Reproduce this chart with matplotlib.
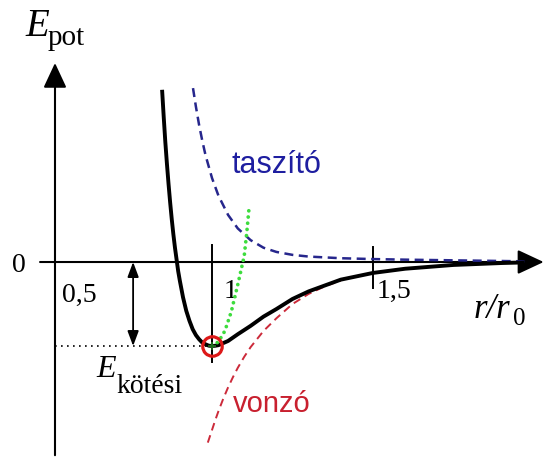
import matplotlib
matplotlib.use("Agg")
import matplotlib.pyplot as plt

# Potential energy curves (r in units of r0, energy in units of the bond energy)
r_total = [0.845, 0.85, 0.855, 0.86, 0.865, 0.87, 0.875, 0.88, 0.885, 0.89, 0.895,
           0.90, 0.91, 0.92, 0.93, 0.94, 0.95, 0.96, 0.97, 0.98, 0.99, 1.00,
           1.01, 1.02, 1.035, 1.05, 1.065, 1.08, 1.10, 1.12, 1.16, 1.20, 1.25,
           1.30, 1.40, 1.50, 1.60, 1.75, 1.90, 1.97]
E_total = [2.05, 1.73, 1.43, 1.17, 0.93, 0.71, 0.51, 0.33, 0.17, 0.03, -0.11,
           -0.22, -0.42, -0.58, -0.70, -0.80, -0.87, -0.92, -0.96, -0.98, -0.996, -1.00,
           -0.997, -0.99, -0.965, -0.94, -0.90, -0.86, -0.81, -0.76, -0.65, -0.56, -0.44,
           -0.35, -0.21, -0.13, -0.08, -0.035, -0.012, -0.005]

r_rep = [0.941, 0.95, 0.96, 0.97, 0.98, 1.00, 1.02, 1.05, 1.08, 1.12, 1.16, 1.20,
         1.25, 1.30, 1.40, 1.50, 1.60, 1.75, 1.90, 1.97]
E_rep = [2.07, 1.85, 1.63, 1.44, 1.27, 1.00, 0.79, 0.56, 0.40, 0.26, 0.17, 0.12,
         0.085, 0.065, 0.045, 0.035, 0.028, 0.02, 0.012, 0.008]

r_att = [0.987, 1.0, 1.01, 1.02, 1.035, 1.05, 1.065, 1.08, 1.10, 1.12, 1.16, 1.20,
         1.25, 1.30, 1.35, 1.40]
E_att = [-2.15, -2.0, -1.884, -1.776, -1.627, -1.492, -1.371, -1.26, -1.129, -1.013,
         -0.821, -0.67, -0.50, -0.38, -0.29, -0.22]

r_harm = [1.0, 1.02, 1.04, 1.06, 1.08, 1.10, 1.108, 1.115]
E_harm = [-1.0, -0.95, -0.82, -0.59, -0.27, 0.07, 0.35, 0.64]

r_min, E_min = 1.0, -1.0
x_ticks = [1.0, 1.5]
tick_labels = ["0,5", "1", "1,5"]

SERIF = "Liberation Serif"
SANS = "Liberation Sans"

fig = plt.figure(figsize=(5.46, 4.59), dpi=100)
ax = fig.add_axes([0, 0, 1, 1])
ax.set_xlim(0.3416, 2.0373)
ax.set_ylim(-2.345, 3.119)
ax.axis("off")

# axes with arrow heads
y_axis_r = 0.5124
arrow_head = "-|>,head_length=0.45,head_width=0.21"
ax.annotate("", xy=(y_axis_r, 2.369), xytext=(y_axis_r, -2.30),
            arrowprops=dict(arrowstyle=arrow_head, mutation_scale=34, lw=1.5,
                            color="black", shrinkA=0, shrinkB=0), zorder=1)
ax.annotate("", xy=(2.03, 0.0), xytext=(0.466, 0.0),
            arrowprops=dict(arrowstyle=arrow_head, mutation_scale=36, lw=1.5,
                            color="black", shrinkA=0, shrinkB=0), zorder=1)

# tick marks
ax.plot([x_ticks[0], x_ticks[0]], [0.20, -1.19], color="black", lw=1.4, zorder=1)
ax.plot([x_ticks[1], x_ticks[1]], [0.18, -0.31], color="black", lw=1.4, zorder=1)

# bond energy guide
ax.plot([y_axis_r, r_min], [E_min, E_min], color="black", lw=1.2,
        dashes=(1.0, 2.6), zorder=1)
ax.annotate("", xy=(0.755, E_min), xytext=(0.755, 0.0),
            arrowprops=dict(arrowstyle="<|-|>,head_length=0.75,head_width=0.28",
                            mutation_scale=12, lw=1.3, color="black",
                            shrinkA=0, shrinkB=0), zorder=2)

# curves
ax.plot(r_att, E_att, color="#cc2a3a", lw=1.4, dashes=(4.0, 2.6), zorder=2)
ax.plot(r_rep, E_rep, color="#26268c", lw=1.8, dashes=(3.6, 2.2), zorder=3)
ax.plot(r_total, E_total, color="black", lw=2.8, solid_capstyle="butt", zorder=4)
ax.plot(r_harm, E_harm, color="#3ddc3d", lw=2.7, dashes=(0.01, 1.65),
        dash_capstyle="round", zorder=5)

# equilibrium point
ax.plot(r_min, E_min, "o", ms=14, mfc="none", mec="#dd1818", mew=2.3, zorder=6)
ax.plot(r_min, E_min, "+", ms=6, color="#1d6b1d", mew=1.3, zorder=7)

# labels
ax.text(0.4193, 2.690, "E", fontsize=28, family=SERIF, style="italic", va="baseline")
ax.text(0.4907, 2.583, "pot", fontsize=21, family=SERIF, va="baseline")
ax.text(0.4006, -0.119, "0", fontsize=20, family=SERIF, ha="center", va="baseline")
ax.text(0.534, -0.476, tick_labels[0], fontsize=20, family=SERIF, va="baseline")
ax.text(1.037, -0.429, tick_labels[1], fontsize=20, family=SERIF, va="baseline")
ax.text(1.512, -0.429, tick_labels[2], fontsize=20, family=SERIF, va="baseline")
ax.text(1.812, -0.667, "r/r", fontsize=25, family=SERIF, style="italic", va="baseline")
ax.text(1.936, -0.75, "0", fontsize=18, family=SERIF, va="baseline")
ax.text(0.640, -1.369, "E", fontsize=23, family=SERIF, style="italic", va="baseline")
ax.text(0.7019, -1.560, "kötési", fontsize=20, family=SERIF, va="baseline")
ax.text(1.0621, 1.060, "taszító", fontsize=22, family=SANS, color="#1e1ea0",
        va="baseline")
ax.text(1.0652, -1.786, "vonzó", fontsize=21, family=SANS, color="#c8202f",
        va="baseline")

fig.savefig("out.png", dpi=100)
